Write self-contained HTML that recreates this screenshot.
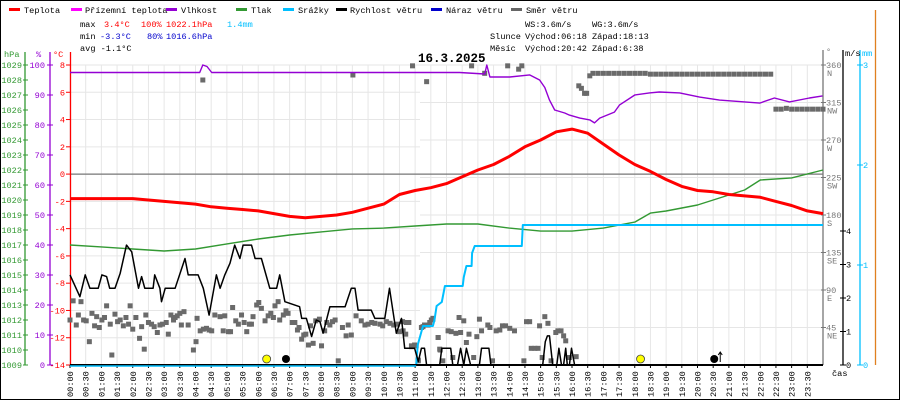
<!DOCTYPE html>
<html><head><meta charset="utf-8">
<style>
html,body{margin:0;padding:0;background:#fff;}
svg{display:block;font-family:"Liberation Mono",monospace;}
</style></head>
<body>
<svg id="chart" width="900" height="400" viewBox="0 0 900 400" xmlns="http://www.w3.org/2000/svg">
<rect x="0.5" y="0.5" width="899" height="399" fill="#fff" stroke="#000"/>
<g id="grid"></g>
<g font-size="8.6">
 <g><rect x="9" y="8" width="11" height="3" fill="#ff0000"/><text x="24" y="13">Teplota</text></g>
 <g><rect x="71" y="8" width="11" height="3" fill="#ff00ff"/><text x="85" y="13">Přízemní teplota</text></g>
 <g><rect x="166" y="8" width="11" height="3" fill="#9400d3"/><text x="181" y="13">Vlhkost</text></g>
 <g><rect x="236" y="8" width="11" height="3" fill="#339933"/><text x="251" y="13">Tlak</text></g>
 <g><rect x="283" y="8" width="11" height="3" fill="#00bfff"/><text x="298" y="13">Srážky</text></g>
 <g><rect x="336" y="8" width="11" height="3" fill="#000"/><text x="350" y="13">Rychlost větru</text></g>
 <g><rect x="431" y="8" width="11" height="3" fill="#0000cc"/><text x="446" y="13">Náraz větru</text></g>
 <g><rect x="511" y="8" width="11" height="3" fill="#666"/><text x="526" y="13">Směr větru</text></g>
</g>
<g font-size="8.6">
 <text x="80" y="27">max</text><text x="104" y="27" fill="#ff0000">3.4°C</text><text x="141" y="27" fill="#ff0000">100%</text><text x="166" y="27" fill="#ff0000">1022.1hPa</text><text x="227" y="27" fill="#00bfff">1.4mm</text>
 <text x="80" y="39">min</text><text x="100" y="39" fill="#0000cc">-3.3°C</text><text x="147" y="39" fill="#0000cc">80%</text><text x="166" y="39" fill="#0000cc">1016.6hPa</text>
 <text x="80" y="51">avg -1.1°C</text>
 <text x="525" y="27">WS:3.6m/s</text><text x="592" y="27">WG:3.6m/s</text>
 <text x="490" y="39">Slunce</text><text x="525" y="39">Východ:06:18</text><text x="592" y="39">Západ:18:13</text>
 <text x="490" y="51">Měsíc</text><text x="525" y="51">Východ:20:42</text><text x="592" y="51">Západ:6:38</text>
</g>
<text x="418" y="62" font-size="12.5" font-weight="bold">16.3.2025</text>
<g id="axes"></g>
<g id="series"></g>
</svg>
<script>
// ---- data ----
const tempMin = [0,30,60,90,120,150,180,210,240,270,300,330,360,390,420,450,480,510,540,570,600,630,660,690,720,750,780,810,840,870,900,930,960,990,1020,1050,1080,1110,1140,1170,1200,1230,1260,1290,1320,1350,1380,1410,1440];
const tempVal = [-1.8,-1.8,-1.8,-1.8,-1.8,-1.9,-2.0,-2.1,-2.2,-2.4,-2.5,-2.6,-2.7,-2.9,-3.1,-3.2,-3.1,-3.0,-2.8,-2.5,-2.2,-1.5,-1.2,-1.0,-0.7,-0.2,0.3,0.7,1.3,2.0,2.5,3.1,3.3,3.0,2.2,1.4,0.7,0.2,-0.4,-0.9,-1.2,-1.3,-1.5,-1.6,-1.7,-2.0,-2.3,-2.7,-2.9];
const humMin = [0,248,254,262,271,745,793,797,803,841,879,898,908,917,927,946,955,975,994,1003,1013,1041,1051,1080,1108,1127,1166,1204,1242,1319,1347,1376,1414,1439];
const humVal = [97.5,97.5,100,99.5,97.5,97.5,97,100,96,96,96.7,95,92.5,88.3,85,84,83.3,82.3,81.7,80.7,82.3,84.3,86.7,90,90.7,91,90.7,89.3,88.3,87.3,89,87.7,89,89.7];
const presMin = [0,60,120,180,240,300,360,420,480,540,600,660,720,780,840,900,960,1020,1080,1110,1140,1200,1260,1290,1320,1380,1440];
const presVal = [1017.0,1016.87,1016.73,1016.6,1016.73,1017.07,1017.4,1017.67,1017.87,1018.07,1018.13,1018.27,1018.4,1018.4,1018.13,1017.93,1017.93,1018.13,1018.53,1019.13,1019.27,1019.67,1020.33,1020.67,1021.33,1021.47,1022.0];
const rainMin = [0,662,665,675,694,697,701,711,717,751,753,758,768,769,774,864,866,1440];
const rainVal = [0,0,0.2,0.39,0.39,0.45,0.59,0.63,0.79,0.79,0.88,0.99,0.99,1.12,1.19,1.19,1.4,1.4];
const windMin = [0,19,29,38,54,61,70,76,86,96,108,118,131,137,143,159,162,172,175,182,201,220,226,245,255,266,280,287,296,306,315,325,331,347,354,366,382,395,401,411,439,443,452,462,471,478,484,497,526,538,545,551,576,583,602,611,624,634,640,659,666,672,678,682,707,711,728,732,741,747,753,758,766,783,787,801,805,904,909,913,917,923,931,935,940,944,948,951,955,959,965,1440];
const windVal = [2.69,2.04,2.69,2.29,2.29,2.69,2.64,2.29,2.29,2.74,3.58,3.38,2.29,2.64,2.29,2.29,2.69,2.29,1.89,2.29,2.29,3.18,2.69,2.69,2.29,1.49,2.69,2.29,2.69,3.04,3.58,3.18,3.58,3.58,3.18,3.18,2.29,2.29,2.69,1.89,1.74,1.39,1.39,0.85,1.34,1.29,0.95,1.74,1.74,2.29,2.29,1.64,1.64,1.39,1.39,2.29,0.95,1.39,0.5,0.5,0.1,0.5,0.5,0,0,0.5,0.5,0,0,0.5,0,0.5,0,0,0.5,0.5,0,0,0.7,0.87,0.87,0,0,0.5,0,0,0.5,0,0,0.5,0,0];
const dirMin = [0,6,12,21,16,26,31,37,42,47,51,56,61,66,70,77,80,86,91,96,102,107,112,115,120,126,133,137,142,145,150,156,161,167,172,177,184,188,193,198,201,205,210,213,218,226,236,241,243,249,255,261,266,271,277,287,293,296,303,307,311,317,322,328,333,338,343,347,350,357,361,366,373,379,384,389,392,398,401,408,413,417,425,430,435,438,443,447,451,456,460,465,470,477,481,487,491,497,502,507,513,521,528,532,538,547,557,564,570,577,583,593,598,605,612,619,626,630,636,643,653,659,666,675,685,691,694,704,707,
 637,642,648,653,662,666,672,678,688,694,704,708,713,723,729,732,738,744,747,753,758,763,772,778,783,787,799,803,808,815,822,827,833,841,850,868,873,879,882,889,895,898,903,908,914,920,929,933,939,944,948,955,968,
 254,541,655,682,768,793,837,858,864,973,978,984,988,994,
 1000,1010,1020,1030,1040,1050,1060,1070,1080,1090,1100,1110,1120,1130,1140,1150,1160,1170,1180,1190,1200,1210,1220,1230,1240,1250,1260,1270,1280,1290,1300,1310,1320,1330,1340,1350,1360,1370,1380,1390,1400,1410,1420,1430,1440];
const dirDeg = [54,77,48,76,60,54,53,28,62,47,58,45,54,57,71,49,12,61,52,54,47,57,49,71,43,57,32,46,19,60,51,49,46,39,48,49,51,37,60,54,57,59,62,48,64,48,18,28,56,41,43,44,42,41,60,58,41,59,40,40,69,53,49,60,51,40,49,49,58,72,75,68,53,59,62,57,71,76,54,60,65,62,51,51,42,45,31,36,37,24,47,26,53,55,23,41,51,48,52,54,5,45,35,48,36,59,53,48,49,51,50,49,47,52,50,48,49,40,52,51,22,24,6,46,48,54,56,33,19,
 41,37,51,23,23,5,45,48,51,55,33,18,5,41,40,9,38,57,39,53,27,37,9,34,55,41,48,45,5,41,42,47,47,44,41,5,52,52,20,20,20,47,9,58,50,5,39,41,41,35,29,9,10,
 342,348,359,340,359,350,359,355,359,335,332,326,326,347,
 350,350,350,350,350,350,350,350,350,350,350,349,349,349,349,349,349,349,349,349,349,349,349,349,349,349,349,349,349,349,349,349,349,349,349,307,307,308,307,307,307,307,307,307,307];
const tempTicks = [8,6,4,2,0,-2,-4,-6,-8,-10,-12,-14];
const humTicks = [100,90,80,70,60,50,40,30,20,10,0];
const presTicks = [1029,1028,1027,1026,1025,1024,1023,1022,1021,1020,1019,1018,1017,1016,1015,1014,1013,1012,1011,1010,1009];
const dirTicks = [360,315,270,225,180,135,90,45];
const dirNames = ["N","NW","W","SW","S","SE","E","NE"];
const windTicks = [4,3,2,1,0];
const rainTicks = [3,2,1,0];

// ---- scales ----
const X0=70, X1=823, YT=65, YB=365;
const xT = m => X0 + m*(X1-X0)/1440;
const yTemp = v => YB - (v+14)*(YB-YT)/22;
const yHum = v => YB - v*(YB-YT)/100;
const yPres = v => YB - (v-1009)*(YB-YT)/20;
const yWind = v => YB - v*33.5;
const yRain = v => YB - v*100;
const yDir = v => YB - v*(YB-YT)/360;

const NS='http://www.w3.org/2000/svg';
function mk(tag, attrs, parent){const e=document.createElementNS(NS,tag);for(const k in attrs)e.setAttribute(k,attrs[k]);parent.appendChild(e);return e;}
const grid=document.getElementById('grid'), axes=document.getElementById('axes'), series=document.getElementById('series');

// grid
for(let m=0;m<=1440;m+=30){const l=mk('line',{x1:xT(m),x2:xT(m),y1:YT,y2:YB,stroke:'#e6e6e6','stroke-width':1},grid);

}
tempTicks.forEach(t=>{const l=mk('line',{x1:X0,x2:420,y1:yTemp(t),y2:yTemp(t),stroke:'#e6e6e6'},grid);

});
dirTicks.forEach(t=>{const l=mk('line',{x1:420,x2:X1,y1:yDir(t),y2:yDir(t),stroke:'#e6e6e6'},grid);

});
const zl=mk('line',{x1:X0,x2:X1,y1:yTemp(0),y2:yTemp(0),stroke:'#777','stroke-width':1.3},grid);



// axes
function axisLine(x,color,name,y0){const l=mk('line',{x1:x,x2:x,y1:y0,y2:YB,stroke:color,'stroke-width':1.3},axes);

}
axisLine(25,'#339933','pressure-axis',52);
axisLine(50,'#9400d3','humidity-axis',52);
axisLine(70.5,'#ff0000','temperature-axis',52);
axisLine(823,'#777','direction-axis',50);
axisLine(843,'#000','wind-axis',50);
axisLine(860,'#00bfff','rain-axis',50);
axisLine(875.5,'#e08020','right-edge-axis',10);
function lbl(x,y,txt,color,anchor,name){const t=mk('text',{x:x,y:y,fill:color,'font-size':8.6,'text-anchor':anchor},axes);t.textContent=txt;

return t;}
lbl(4,57,'hPa','#339933','start','pressure-axis-title');
lbl(36,57,'%','#9400d3','start','humidity-axis-title');
lbl(53,57,'°C','#ff0000','start','temperature-axis-title');
lbl(826,54,'°','#777','start','direction-axis-title');
lbl(845,56,'m/s','#000','start','wind-axis-title');
lbl(862,56,'mm','#00bfff','start','rain-axis-title');
lbl(832,376,'čas','#000','start','time-axis-title');
presTicks.forEach(v=>{const y=yPres(v);mk('line',{x1:23,x2:28,y1:y,y2:y,stroke:'#339933'},axes);lbl(22,y+3,String(v),'#339933','end','pressure-tick-label');});
humTicks.forEach(v=>{const y=yHum(v);mk('line',{x1:47,x2:53,y1:y,y2:y,stroke:'#9400d3'},axes);lbl(45,y+3,String(v),'#9400d3','end','humidity-tick-label');});
tempTicks.forEach(v=>{const y=yTemp(v);mk('line',{x1:66,x2:71,y1:y,y2:y,stroke:'#ff0000'},axes);lbl(65,y+3,String(v),'#ff0000','end','temperature-tick-label');});
dirTicks.forEach((v,i)=>{const y=yDir(v);mk('line',{x1:821,x2:826,y1:y,y2:y,stroke:'#777'},axes);lbl(826,y+3,String(v),'#777','start','direction-tick-label');lbl(827,y+11,dirNames[i],'#777','start','direction-name-label');});
windTicks.forEach(v=>{const y=yWind(v);mk('line',{x1:840,x2:846,y1:y,y2:y,stroke:'#000'},axes);lbl(846,y+3,String(v),'#000','start','wind-tick-label');});
rainTicks.forEach(v=>{const y=yRain(v);mk('line',{x1:857,x2:863,y1:y,y2:y,stroke:'#00bfff'},axes);lbl(863,y+3,String(v),'#00bfff','start','rain-tick-label');});
for(let m=0;m<1440;m+=30){const x=xT(m);mk('line',{x1:x,x2:x,y1:YB,y2:YB+3,stroke:'#000'},axes);
const hh=String(Math.floor(m/60)).padStart(2,'0'), mm=String(m%60).padStart(2,'0');
const t=mk('text',{x:0,y:0,'font-size':8.6,transform:`translate(${x+3},397) rotate(-90)`},axes);t.textContent=hh+':'+mm;

}

// series
function pathOf(ms,vs,ys){return ms.map((m,i)=>(i?'L':'M')+xT(m).toFixed(1)+' '+ys(vs[i]).toFixed(1)).join(' ');}
function line(ms,vs,ys,color,w,name){const p=mk('path',{d:pathOf(ms,vs,ys),fill:'none',stroke:color,'stroke-width':w,'stroke-linejoin':'round'},series);

}
const dg=mk('g',{fill:'#6a6a6a'},series);


dirMin.forEach((m,i)=>{const r=mk('rect',{x:xT(m)-2.5,y:yDir(dirDeg[i])-2.5,width:5,height:5},dg);

});
line(presMin,presVal,yPres,'#339933',1.4,'pressure-line');
line(humMin,humVal,yHum,'#9400d3',1.4,'humidity-line');
line(tempMin,tempVal,yTemp,'#ff0000',3,'temperature-line');
line(rainMin,rainVal,yRain,'#00bfff',2,'rain-line');
line(windMin,windVal,yWind,'#000',1.5,'wind-speed-line');
const bl=mk('line',{x1:X0,x2:X1,y1:YB,y2:YB,stroke:'#000','stroke-width':2},series);


const cl=mk('line',{x1:X0,x2:xT(662),y1:YB+1,y2:YB+1,stroke:'#00bfff','stroke-width':1.5},series);


// sun & moon markers
const sunMin=[378,1093], moonMin=[413,1232];
sunMin.forEach(m=>{const c=mk('circle',{cx:xT(m)-1,cy:359,r:4,fill:'#ffff00',stroke:'#444','stroke-width':0.8},series);

});
moonMin.forEach(m=>{const c=mk('circle',{cx:xT(m),cy:359,r:4,fill:'#000'},series);

});
const ar=mk('path',{d:`M${xT(1232)+6} 362 V352 M${xT(1232)+4} 355 L${xT(1232)+6} 352 L${xT(1232)+8} 355`,stroke:'#000',fill:'none','stroke-width':1},series);


</script>
</body></html>
